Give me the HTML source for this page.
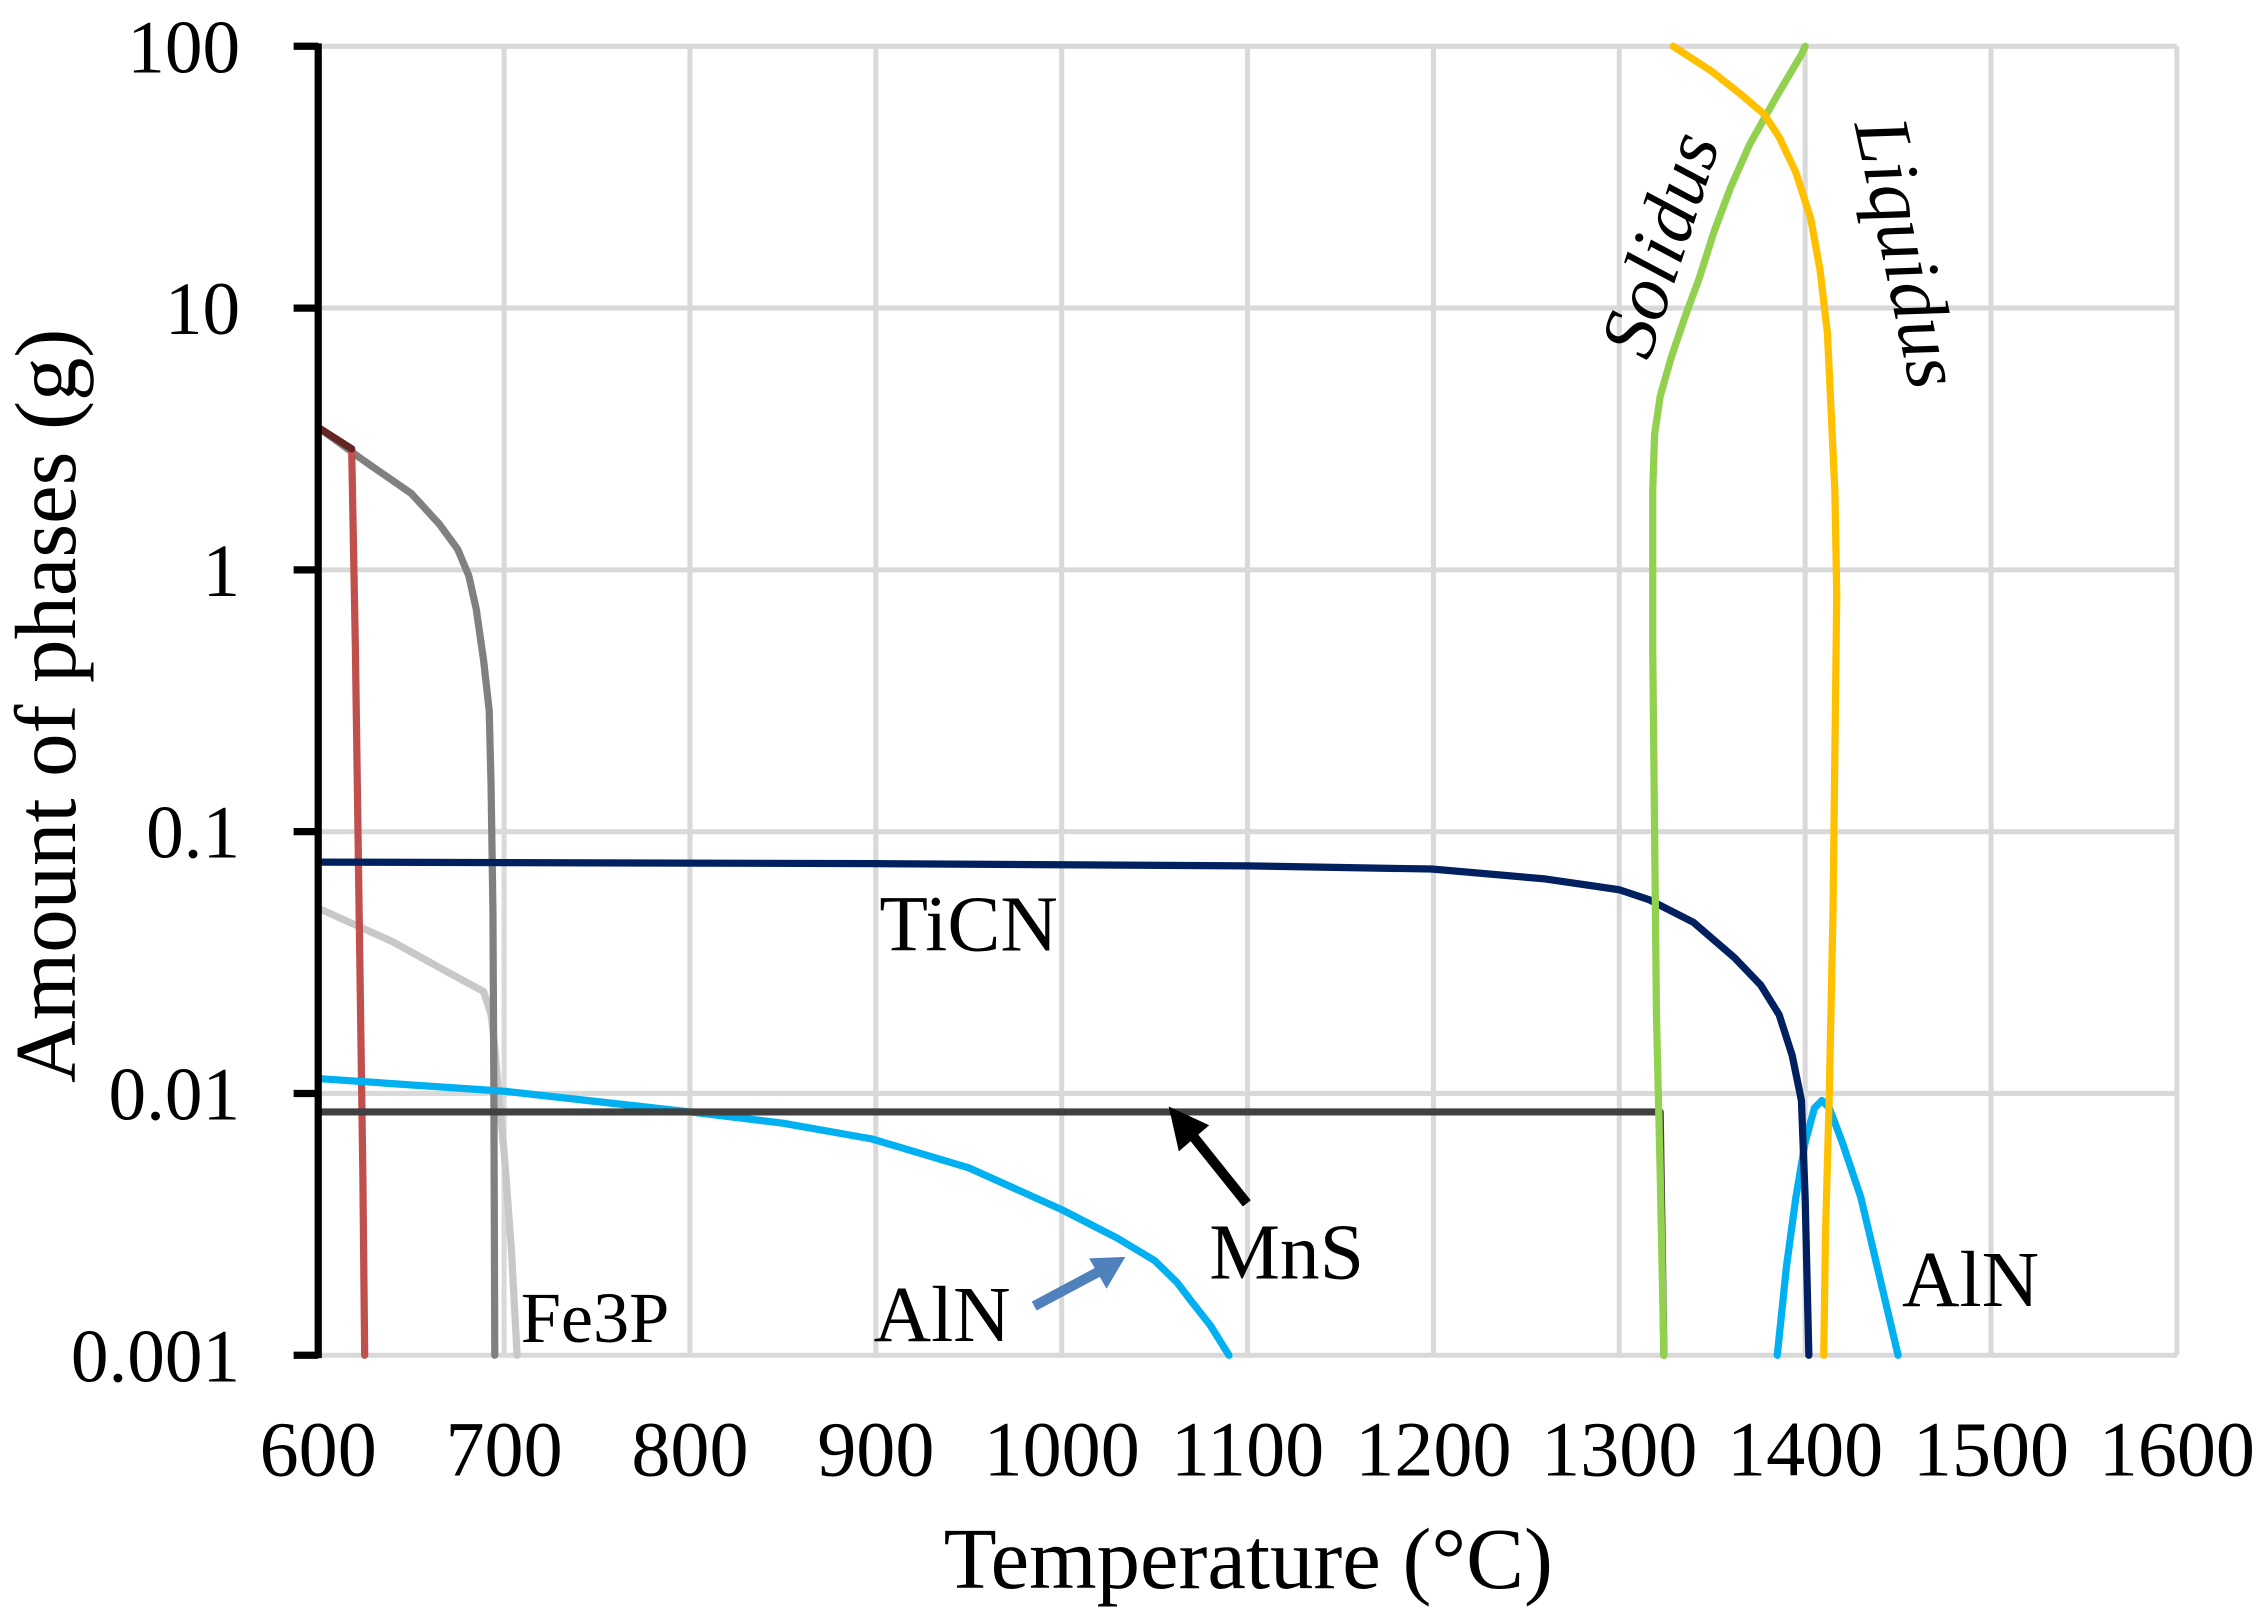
<!DOCTYPE html>
<html><head><meta charset="utf-8"><style>
html,body{margin:0;padding:0;background:#fff;}
svg{display:block;}
text{font-family:"Liberation Serif",serif;fill:#000;}
</style></head><body>
<svg id="chart" width="2268" height="1624" viewBox="0 0 1568 1122.8" preserveAspectRatio="none" xmlns="http://www.w3.org/2000/svg">
<g id="grid"></g>
<g id="series"></g>
<g id="axes"></g>
<g id="labels">
<text x="608" y="657" font-size="55">TiCN</text>
<text x="836" y="884" font-size="55">MnS</text>
<text x="604" y="927" font-size="55">AlN</text>
<text x="360" y="928" font-size="50">Fe3P</text>
<text x="1315" y="903" font-size="55">AlN</text>
<text transform="translate(1140,250) rotate(-72)" font-size="54" font-style="italic">Solidus</text>
<text transform="translate(1282,86) rotate(78)" font-size="54" font-style="italic">Liquidus</text>
<line x1="862" y1="832" x2="822" y2="782" stroke="#000" stroke-width="7"/>
<polygon points="808,765 836,778 815,796" fill="#000"/>
<line x1="715" y1="903" x2="760" y2="879" stroke="#4F81BD" stroke-width="7"/>
<polygon points="778,869 765,891 753,870" fill="#4F81BD"/>
<text x="863" y="1098" font-size="60" text-anchor="middle">Temperature (°C)</text>
<text transform="translate(52,488) rotate(-90)" font-size="60" text-anchor="middle">Amount of phases (g)</text>
</g>
</svg>
<script>
const xTicks=[600,700,800,900,1000,1100,1200,1300,1400,1500,1600];
const yTicks=[0.001,0.01,0.1,1,10,100];
const yTickLabels=["0.001","0.01","0.1","1","10","100"];
const liquidusT=[1329,1350,1366,1378,1386,1395,1403,1408,1412,1414,1416,1417,1416,1415,1413,1411,1410];
const liquidusV=[100,80,65,55,45,33,22,14,8,4,2,0.8,0.2,0.05,0.01,0.003,0.001];
const solidusT=[1324,1322,1320,1319,1318,1318,1319,1322,1328,1335,1343,1351,1360,1370,1385,1398,1400];
const solidusV=[0.001,0.005,0.02,0.1,0.5,2,3.3,4.6,6.5,9.1,13,19.6,29,42,65,93,100];
const ticnT=[600,900,1100,1199,1260,1300,1316,1340,1362,1376,1386,1393,1398,1400,1402];
const ticnV=[0.0765,0.0755,0.074,0.072,0.066,0.06,0.055,0.045,0.033,0.026,0.02,0.014,0.0094,0.004,0.001];
const mnsT=[600,1322,1324];
const mnsV=[0.0085,0.0085,0.001];
const alnT=[600,700,800,850,898,950,1000,1030,1050,1062,1070,1080,1090];
const alnV=[0.0114,0.0102,0.0085,0.0077,0.0067,0.0052,0.0036,0.0028,0.0023,0.0019,0.0016,0.0013,0.001];
const aln2T=[1385,1390,1395,1400,1405,1409,1413,1420,1430,1440,1450];
const aln2V=[0.001,0.0022,0.004,0.0065,0.0088,0.0094,0.0088,0.0065,0.004,0.002,0.001];
const fe3pT=[600,640,670,689,693,695,697,700,704,707];
const fe3pV=[0.051,0.038,0.029,0.0245,0.02,0.015,0.01,0.006,0.0025,0.001];
const grayT=[600,625,650,665,675,681,685,689,692,693,694,694.5,695];
const grayV=[3.5,2.6,1.96,1.5,1.2,0.95,0.71,0.45,0.29,0.15,0.05,0.01,0.001];
const brownT=[600,618];
const brownV=[3.5,2.9];
const redT=[618,620,622,624,625];
const redV=[2.9,0.5,0.05,0.005,0.001];
const NS="http://www.w3.org/2000/svg";
const X0=220,X1=1505,YT=32,YB=937;
function sx(t){return X0+(t-600)/1000*(X1-X0);}
function sy(v){return YB-(Math.log10(v)+3)/5*(YB-YT);}
function mk(tag,attrs,parent){const e=document.createElementNS(NS,tag);for(const k in attrs)e.setAttribute(k,attrs[k]);parent.appendChild(e);return e;}
const grid=document.getElementById('grid'),ser=document.getElementById('series'),axes=document.getElementById('axes');
xTicks.forEach((t,i)=>{
 const l=mk('line',{x1:sx(t),x2:sx(t),y1:YT,y2:YB,stroke:'#d9d9d9','stroke-width':3.5},grid);
 
 
 const tx=mk('text',{x:sx(t),y:1020,'font-size':54,'text-anchor':'middle'},axes);
 tx.textContent=t;
 
 
});
yTicks.forEach((v,i)=>{
 const l=mk('line',{x1:X0,x2:X1,y1:sy(v),y2:sy(v),stroke:'#d9d9d9','stroke-width':3.5},grid);
 
 
 const tk=mk('line',{x1:203,x2:X0,y1:sy(v),y2:sy(v),stroke:'#000','stroke-width':5},axes);
 
 
 const tx=mk('text',{x:166,y:sy(v)+18,'font-size':52,'text-anchor':'end'},axes);
 tx.textContent=yTickLabels[i];
 
 
});
const ax=mk('line',{x1:X0,x2:X0,y1:YT-2,y2:YB+2,stroke:'#000','stroke-width':5},axes);


function draw(T,V,color,name){
 const pts=T.map((t,i)=>sx(t)+','+sy(V[i])).join(' ');
 const p=mk('polyline',{points:pts,fill:'none',stroke:color,'stroke-width':5,'stroke-linejoin':'round','stroke-linecap':'round'},ser);
 
 
}
draw(fe3pT,fe3pV,'#c8c8c8','fe3p-line');
draw(grayT,grayV,'#808080','cementite-line');
draw(redT,redV,'#c0504d','red-phase-line');
draw(brownT,brownV,'#632523','brown-phase-line');
draw(alnT,alnV,'#00b0f0','aln-line');
draw(aln2T,aln2V,'#00b0f0','aln-high-line');
draw(mnsT,mnsV,'#404040','mns-line');
draw(ticnT,ticnV,'#002060','ticn-line');
draw(solidusT,solidusV,'#92d050','solidus-line');
draw(liquidusT,liquidusV,'#ffc000','liquidus-line');
</script>
</body></html>
